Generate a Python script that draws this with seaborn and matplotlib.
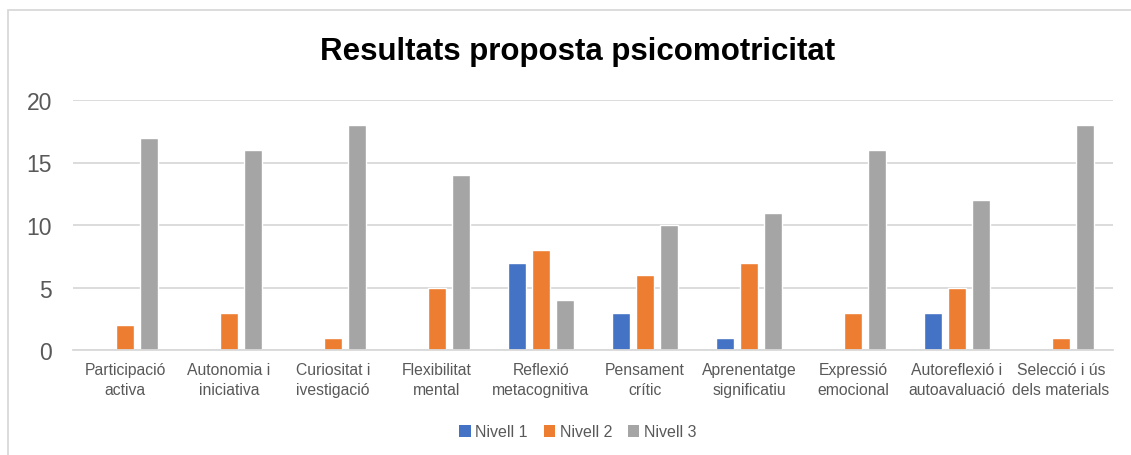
import matplotlib
matplotlib.use("Agg")
import matplotlib.pyplot as plt
import seaborn as sns
import pandas as pd
from matplotlib.patches import Rectangle, Patch

categories = [
    "Participació\nactiva",
    "Autonomia i\niniciativa",
    "Curiositat i\nivestigació",
    "Flexibilitat\nmental",
    "Reflexió\nmetacognitiva",
    "Pensament\ncrític",
    "Aprenentatge\nsignificatiu",
    "Expressió\nemocional",
    "Autoreflexió i\nautoavaluació",
    "Selecció i ús\ndels materials",
]
series_names = ["Nivell 1", "Nivell 2", "Nivell 3"]
nivell1 = [0, 0, 0, 0, 7, 3, 1, 0, 3, 0]
nivell2 = [2, 3, 1, 5, 8, 6, 7, 3, 5, 1]
nivell3 = [17, 16, 18, 14, 4, 10, 11, 16, 12, 18]
colors = ["#4472C4", "#ED7D31", "#A5A5A5"]
title = "Resultats proposta psicomotricitat"
yticks = [0, 5, 10, 15, 20]

rows = []
for name, vals in zip(series_names, [nivell1, nivell2, nivell3]):
    for c, v in zip(categories, vals):
        rows.append({"cat": c, "serie": name, "valor": v})
df = pd.DataFrame(rows)

sns.set_theme(style="white")
plt.rcParams["font.family"] = ["Liberation Sans", "DejaVu Sans"]

fig = plt.figure(figsize=(11.31, 4.56), dpi=100)
ax = fig.add_axes([73 / 1131, 105 / 456, 1040 / 1131, 250 / 456])

sns.barplot(data=df, x="cat", y="valor", hue="serie", order=categories,
            hue_order=series_names, palette=colors, width=0.692, gap=0.25,
            saturation=1, legend=False, ax=ax, errorbar=None)

ax.set_ylim(0, 20)
ax.set_xlim(-0.5, len(categories) - 0.5)
ax.set_yticks(yticks)
ax.set_yticklabels([str(t) for t in yticks], fontsize=16.5, color="#595959")
ax.tick_params(axis="y", length=0, pad=15)
ax.tick_params(axis="x", length=0, pad=9)
ax.set_xticks(range(len(categories)))
ax.set_xticklabels(categories, fontsize=11.3, color="#595959", linespacing=1.4)
ax.set_xlabel("")
ax.set_ylabel("")
ax.yaxis.grid(True, color="#D9D9D9", linewidth=1.3)
ax.set_axisbelow(True)
for s in ["top", "right", "left"]:
    ax.spines[s].set_visible(False)
ax.spines["bottom"].set_color("#D9D9D9")
ax.spines["bottom"].set_linewidth(1.3)

fig.text(578 / 1131, 1 - 52 / 456, title, ha="center", va="center",
         fontsize=22.5, fontweight="bold", color="black")

handles = [Patch(facecolor=c, edgecolor="none", label=n) for c, n in zip(colors, series_names)]
fig.legend(handles=handles, loc="center", bbox_to_anchor=(578 / 1131, 1 - 433 / 456),
           ncol=3, frameon=False, fontsize=11.5, handlelength=0.7, handleheight=0.7,
           handletextpad=0.3, columnspacing=1.0, labelcolor="#595959")

border = Rectangle((8 / 1131, -0.1), 1.2, (456 - 11) / 456 + 0.1,
                   transform=fig.transFigure, fill=False, edgecolor="#D9D9D9",
                   linewidth=1.3)
fig.patches.append(border)

fig.savefig("out.png", dpi=100)
